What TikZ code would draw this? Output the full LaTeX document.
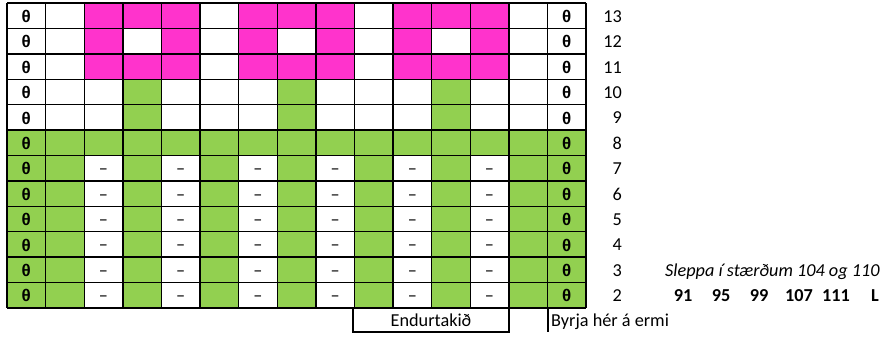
\documentclass[tikz,border=0pt]{standalone}
\usepackage{fontspec}
\setmainfont{Carlito}
\newfontfamily\thfont{Liberation Sans}
\definecolor{pk}{HTML}{FF33CC}
\definecolor{gr}{HTML}{92D050}
\tikzset{
  gridline/.style={black, line width=1.4bp},
  boxline/.style={black, line width=2.4bp},
  thetatxt/.style={inner sep=0pt, font=\thfont\bfseries\fontsize{17}{19}\selectfont},
  dashtxt/.style={inner sep=0pt, anchor=base, font=\fontsize{18.3}{20}\selectfont},
  lbl/.style={inner sep=0pt, font=\fontsize{18.3}{20}\selectfont},
}
\newcommand{\cw}{38.6}
\newcommand{\rh}{25.4}
\begin{document}
\begin{tikzpicture}[x=1bp,y=-1bp]
\useasboundingbox (0,0) rectangle (882,336);
% white background of grid
\fill[white] (7,3) rectangle (586,307.8);
% pink cells
\foreach \i in {1,3}{
  \foreach \c in {3,4,5,7,8,9,11,12,13}{
    \fill[pk] ({7+(\c-1)*\cw},{3+(\i-1)*\rh}) rectangle ++(\cw,\rh);
  }
}
\foreach \c in {3,5,7,9,11,13}{
  \fill[pk] ({7+(\c-1)*\cw},{3+\rh}) rectangle ++(\cw,\rh);
}
% green cells
\foreach \i in {4,5}{
  \foreach \c in {4,8,12}{
    \fill[gr] ({7+(\c-1)*\cw},{3+(\i-1)*\rh}) rectangle ++(\cw,\rh);
  }
}
\fill[gr] (7,{3+5*\rh}) rectangle (586,{3+6*\rh});
\foreach \i in {7,...,12}{
  \foreach \c in {1,2,4,6,8,10,12,14,15}{
    \fill[gr] ({7+(\c-1)*\cw},{3+(\i-1)*\rh}) rectangle ++(\cw,\rh);
  }
}
% grid lines
\foreach \c in {0,...,15}{
  \draw[gridline] ({7+\c*\cw},3) -- ({7+\c*\cw},{3+12*\rh});
}
\foreach \i in {0,...,12}{
  \draw[gridline] (7,{3+\i*\rh}) -- (586,{3+\i*\rh});
}
% thetas and row numbers
\foreach \i in {1,...,12}{
  \pgfmathtruncatemacro{\rn}{14-\i}
  \node[thetatxt] (tL\i) at ({7+0.5*\cw},{3+(\i-0.5)*\rh+0.8}) {θ};
  \node[thetatxt] (tR\i) at ({7+14.5*\cw},{3+(\i-0.5)*\rh+0.8}) {θ};
  \node[lbl, anchor=base east] (n\i) at (622,{3+(\i-0.5)*\rh+6.5}) {\rn};
}
% dashes
\foreach \i in {7,...,12}{
  \foreach \c in {3,5,7,9,11,13}{
    \node[dashtxt] (d\i-\c) at ({7+(\c-0.5)*\cw},{3+(\i-0.5)*\rh+6.5}) {–};
  }
}
% side texts
\node[lbl, anchor=base west, font=\itshape\fontsize{18.3}{20}\selectfont] (slp) at (665,{3+10.5*\rh+6.5}) {Sleppa í stærðum 104 og 110};
\foreach \x/\t [count=\k] in {683/91,721/95,759/99,799/107,836/111,875/L}{
  \node[lbl, anchor=base, font=\bfseries\fontsize{18.3}{20}\selectfont] (sz\k) at (\x,{3+11.5*\rh+6.5}) {\t};
}
% bottom box
\coordinate (bA) at (353,{3+12*\rh});
\coordinate (bB) at (353,332);
\coordinate (bC) at (509,332);
\coordinate (bD) at (509,{3+12*\rh});
\draw[boxline] (bA) -- (bB) -- (bC) -- (bD);
\node[lbl, anchor=base] (end) at (431,326) {Endurtakið};
\coordinate (cA) at (548,{3+12*\rh});
\coordinate (cB) at (548,332);
\draw[boxline] (cA) -- (cB);
\node[lbl, anchor=base west] (byr) at (551,326) {Byrja hér á ermi};
\end{tikzpicture}
\end{document}
